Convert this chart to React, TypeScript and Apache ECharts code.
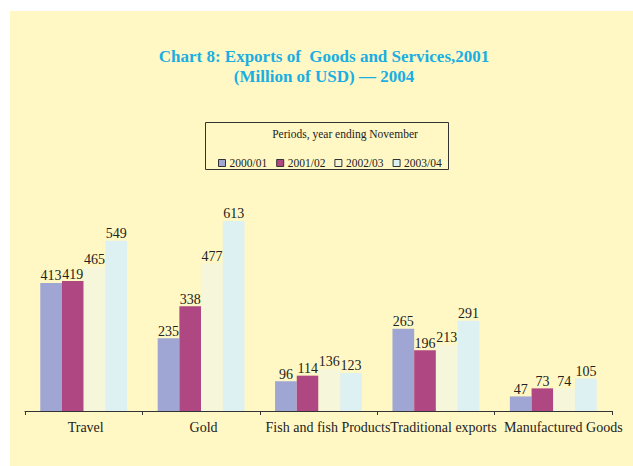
import React, { useEffect, useRef } from "react";
import * as echarts from "echarts";

const categories = ["Travel", "Gold", "Fish and fish Products", "Traditional exports", "Manufactured Goods"];
const periods = ["2000/01", "2001/02", "2002/03", "2003/04"];
const v200001 = [413, 235, 96, 265, 47];
const v200102 = [419, 338, 114, 196, 73];
const v200203 = [465, 477, 136, 213, 74];
const v200304 = [549, 613, 123, 291, 105];
const seriesValues = [v200001, v200102, v200203, v200304];
const colors = ["#A0A6D4", "#AE4782", "#F6F6DA", "#DDF0F2"];

const FONT = "Liberation Serif";
// horizontal nudge (px) of each category label, as in the reference layout
const labelShift = [2, 2.5, 9.5, 7.5, 10];

export default function App() {
  const ref = useRef<HTMLDivElement>(null);
  useEffect(() => {
    document.body.style.margin = "0";
    const chart = echarts.init(ref.current!, null, { renderer: "svg" });
    const rich: Record<string, any> = {};
    labelShift.forEach((s, i) => {
      rich["c" + i] = {
        fontFamily: FONT,
        fontSize: 14,
        color: "#222",
        padding: [0, 0, 0, s * 2],
      };
    });
    chart.setOption({
      animation: false,
      backgroundColor: "#ffffff",
      graphic: [
        {
          type: "rect",
          z: -10,
          shape: { x: 10, y: 11, width: 623, height: 455 },
          style: { fill: "#FFF8C4" },
          silent: true,
        },
        {
          type: "text",
          x: 324,
          y: 56,
          style: {
            text: "Chart 8: Exports of  Goods and Services,2001",
            fontFamily: FONT,
            fontWeight: "bold",
            fontSize: 17,
            fill: "#1AAEE2",
            align: "center",
            verticalAlign: "middle",
          },
        },
        {
          type: "text",
          x: 324,
          y: 76,
          style: {
            text: "(Million of USD) — 2004",
            fontFamily: FONT,
            fontWeight: "bold",
            fontSize: 17,
            fill: "#1AAEE2",
            align: "center",
            verticalAlign: "middle",
          },
        },
        {
          type: "rect",
          shape: { x: 205.5, y: 122.5, width: 243, height: 47 },
          style: { fill: "none", stroke: "#333", lineWidth: 1 },
          silent: true,
        },
        {
          type: "text",
          x: 345,
          y: 134,
          style: {
            text: "Periods, year ending November",
            fontFamily: FONT,
            fontSize: 11.5,
            fill: "#222",
            align: "center",
            verticalAlign: "middle",
          },
        },
      ],
      legend: {
        data: periods,
        left: 213,
        top: 152,
        itemWidth: 7,
        itemHeight: 7,
        itemGap: 9,
        icon: "rect",
        itemStyle: { borderColor: "#333", borderWidth: 1 },
        textStyle: { fontFamily: FONT, fontSize: 11.5, color: "#222", padding: [0, 0, 0, -1] },
      },
      grid: { left: 25, right: 21, top: 194, bottom: 55, containLabel: false },
      xAxis: {
        type: "category",
        data: categories,
        axisLine: { lineStyle: { color: "#333", width: 1 } },
        axisTick: { show: true, length: 4, lineStyle: { color: "#333" } },
        axisLabel: {
          interval: 0,
          fontFamily: FONT,
          fontSize: 14,
          color: "#222",
          margin: 9,
          formatter: (val: string, idx: number) => `{c${idx}|${val}}`,
          rich,
        },
      },
      yAxis: {
        type: "value",
        min: 0,
        max: 700,
        show: false,
        splitLine: { show: false },
      },
      series: periods.map((p, i) => ({
        name: p,
        type: "bar",
        data: seriesValues[i],
        barGap: "0%",
        barCategoryGap: "26%",
        itemStyle: { color: colors[i] },
        label: {
          show: true,
          position: "top",
          distance: 0,
          fontFamily: FONT,
          fontSize: 14,
          color: "#222",
        },
      })),
    });
    return () => chart.dispose();
  }, []);
  return <div ref={ref} style={{ width: 633, height: 466 }} />;
}
